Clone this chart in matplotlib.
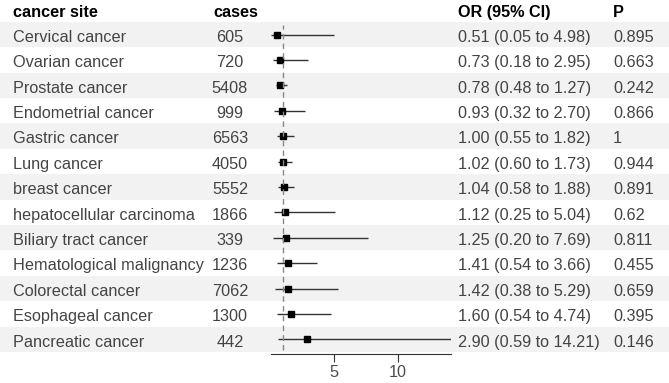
import matplotlib.pyplot as plt

plt.rcParams['font.family'] = ['Liberation Sans', 'DejaVu Sans']

# Data
sites = ["Cervical cancer", "Ovarian cancer", "Prostate cancer", "Endometrial cancer",
         "Gastric cancer", "Lung cancer", "breast cancer", "hepatocellular carcinoma",
         "Biliary tract cancer", "Hematological malignancy", "Colorectal cancer",
         "Esophageal cancer", "Pancreatic cancer"]
cases = [605, 720, 5408, 999, 6563, 4050, 5552, 1866, 339, 1236, 7062, 1300, 442]
or_est = [0.51, 0.73, 0.78, 0.93, 1.00, 1.02, 1.04, 1.12, 1.25, 1.41, 1.42, 1.60, 2.90]
ci_low = [0.05, 0.18, 0.48, 0.32, 0.55, 0.60, 0.58, 0.25, 0.20, 0.54, 0.38, 0.54, 0.59]
ci_high = [4.98, 2.95, 1.27, 2.70, 1.82, 1.73, 1.88, 5.04, 7.69, 3.66, 5.29, 4.74, 14.21]
p_vals = ["0.895", "0.663", "0.242", "0.866", "1", "0.944", "0.891", "0.62",
          "0.811", "0.455", "0.659", "0.395", "0.146"]
x_ticks = [5, 10]

W, H = 669, 383
fig = plt.figure(figsize=(W / 100, H / 100), dpi=100)

# background axes in pixel coordinates
bg = fig.add_axes([0, 0, 1, 1])
bg.set_xlim(0, W)
bg.set_ylim(H, 0)
bg.axis('off')

fs = 11.7
y0, dy = 34.5, 25.4
txt = '#444444'
for i, s in enumerate(sites):
    yc = y0 + dy * i
    if i % 2 == 0:
        bg.axhspan(yc - dy / 2, yc + dy / 2, color='#f2f2f2', lw=0, zorder=0)
    yb = yc + 7.3
    bg.text(13, yb, s, fontsize=fs, color=txt, va='baseline', ha='left')
    bg.text(230, yb, str(cases[i]), fontsize=fs, color=txt, va='baseline', ha='center')
    bg.text(458, yb, f"{or_est[i]:.2f} ({ci_low[i]:.2f} to {ci_high[i]:.2f})",
            fontsize=fs, color=txt, va='baseline', ha='left')
    bg.text(613, yb, p_vals[i], fontsize=fs, color=txt, va='baseline', ha='left')

for x, lab in [(13, "cancer site"), (213, "cases"), (458, "OR (95% CI)"), (613, "P")]:
    bg.text(x, 17, lab, fontsize=fs, fontweight='bold', color='black', va='baseline', ha='left')

# forest axes
xl, xr = 271.0, 451.3
ytop, ybot = 22, 354.3
ax = fig.add_axes([xl / W, 1 - ybot / H, (xr - xl) / W, (ybot - ytop) / H])
ax.patch.set_alpha(0)
ax.set_xlim(min(ci_low), max(ci_high))
ax.set_ylim((ybot - y0) / dy, (ytop - y0) / dy)
rows = list(range(len(sites)))
ax.hlines(rows, ci_low, ci_high, color='#333333', lw=1)
ax.plot(or_est, rows, 's', color='black', ms=4.2)
ax.axvline(1, color='#888888', ls=(0, (4, 3)), lw=1, ymin=0.012, ymax=0.99)
for sp in ['top', 'left', 'right']:
    ax.spines[sp].set_visible(False)
ax.spines['bottom'].set_color('#333333')
ax.set_yticks([])
ax.set_xticks(x_ticks)
ax.tick_params(axis='x', length=6, colors='#333333', labelsize=fs, labelcolor='#4d4d4d', pad=1.5)

fig.savefig('out.png', dpi=100)
